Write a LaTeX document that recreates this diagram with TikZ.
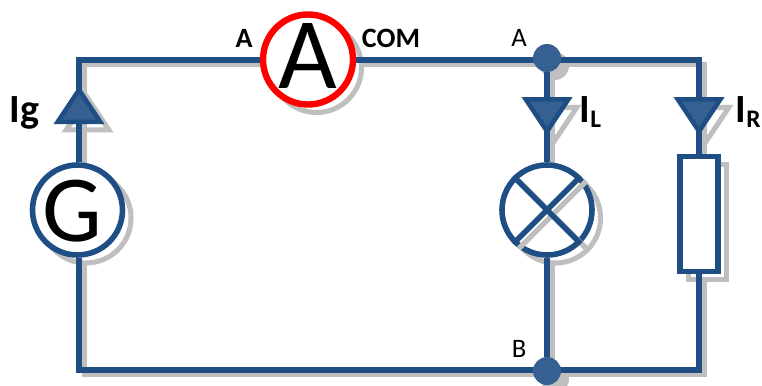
\documentclass[tikz,border=0pt]{standalone}
\usepackage{fontspec}
\setmainfont{Carlito}
\usetikzlibrary{shapes.geometric,backgrounds}

\definecolor{wireblue}{HTML}{1F4E85}
\definecolor{fillblue}{HTML}{376092}
\definecolor{shadowgrey}{HTML}{BFBFBF}

\newcommand{\subI}[1]{I\raisebox{-3.75pt}{\fontsize{19}{19}\selectfont #1}}

\tikzset{
  wire/.style={draw=wireblue, line width=4pt, line join=miter},
  wireshadow/.style={draw=shadowgrey, line width=4pt, transform canvas={xshift=4.2pt, yshift=-3.6pt}},
  ghost/.style={draw=shadowgrey, fill=none, line width=3.8pt, transform canvas={xshift=3.2pt, yshift=-3pt}},
  meter/.style={circle, draw=wireblue, fill=white, line width=4.2pt, minimum size=67.5pt, inner sep=0pt},
  resistor/.style={rectangle, draw=wireblue, fill=white, line width=4pt, minimum width=28.5pt, minimum height=86pt, inner sep=0pt},
  junction/.style={circle, fill=fillblue, minimum size=21pt, inner sep=0pt},
  current/.style={isosceles triangle, isosceles triangle stretches, draw=wireblue, fill=fillblue, line width=3.4pt, line join=miter, inner sep=0pt, minimum height=24pt, minimum width=32pt},
  currentup/.style={current, shape border rotate=90},
  currentdown/.style={current, shape border rotate=-90},
  biglabel/.style={font=\fontsize{71}{71}\selectfont, text=black, inner sep=0pt, anchor=base},
  curlabel/.style={font=\fontsize{30}{30}\selectfont\bfseries, text=black, anchor=base west},
  termlabel/.style={font=\fontsize{21}{21}\selectfont\bfseries, text=black},
  ptlabel/.style={font=\fontsize{20}{20}\selectfont, text=black}
}

\begin{document}
\begin{tikzpicture}[x=0.75pt, y=-0.75pt]
  \useasboundingbox (0,0) rectangle (762,385);

  % Corners of the loop
  \coordinate (cornertl) at (79,60);
  \coordinate (cornertr) at (699,60);
  \coordinate (cornerbl) at (79,370);
  \coordinate (cornerbr) at (699,370);

  % Components
  \node[meter, draw=red, line width=4.8pt] (amp) at (308,59.5) {};
  \node[biglabel, font=\fontsize{76}{76}\selectfont] (amptext) at (308,88) {A};
  \node[meter] (gen) at (77.5,210) {};
  \node[biglabel] (gentext) at (72.5,241) {G};
  \node[meter] (lamp) at (547,210) {};
  \node[resistor] (res) at (699,214) {};

  % Lamp cross
  \draw[wireshadow] (lamp.45) -- (lamp.225);
  \draw[wireshadow] (lamp.135) -- (lamp.315);
  \draw[wire] (lamp.45) -- (lamp.225);
  \draw[wire] (lamp.135) -- (lamp.315);

  % Junctions
  \node[junction] (dotA) at (547,58) {};
  \node[junction] (dotB) at (547,371) {};

  % Current arrows
  \node[currentup] (arrg) at (79,110.5) {};
  \node[currentdown] (arrl) at (547,110.7) {};
  \node[currentdown] (arrr) at (699,110.7) {};

  % Wires and shadows, behind everything
  \begin{scope}[on background layer]
    \foreach \name/\look in {amp/meter, gen/meter, lamp/meter, res/resistor, arrg/currentup, arrl/currentdown, arrr/currentdown} {
      \node[\look, ghost] (\name-shadow) at (\name) {};
    }
    \node[junction, fill=shadowgrey, transform canvas={xshift=3pt, yshift=-3pt}] (dotA-shadow) at (dotA) {};
    \node[junction, fill=shadowgrey, transform canvas={xshift=3pt, yshift=-3pt}] (dotB-shadow) at (dotB) {};
    \foreach \layer in {wireshadow, wire} {
      \draw[\layer] (cornertl |- gen.north) -- (cornertl) -- (cornertl -| amp.west);
      \draw[\layer] (cornertr -| amp.east) -- (cornertr) -- (res.north);
      \draw[\layer] (res.south) -- (cornerbr) -- (cornerbl) -- (cornerbl |- gen.south);
      \draw[\layer] (dotA) -- (lamp.north);
      \draw[\layer] (lamp.south) -- (dotB);
    }
  \end{scope}

  % Labels
  \node[termlabel] (termA) at (244,38) {A};
  \node[termlabel] (termCOM) at (391,38) {COM};
  \node[ptlabel] (ptA) at (519,38) {A};
  \node[ptlabel] (ptB) at (519,349) {B};
  \node[curlabel] (lblg) at (5,122) {Ig};
  \node[curlabel] (lbll) at (575,122) {\subI{L}};
  \node[curlabel] (lblr) at (731,122) {\subI{R}};

\end{tikzpicture}
\end{document}
